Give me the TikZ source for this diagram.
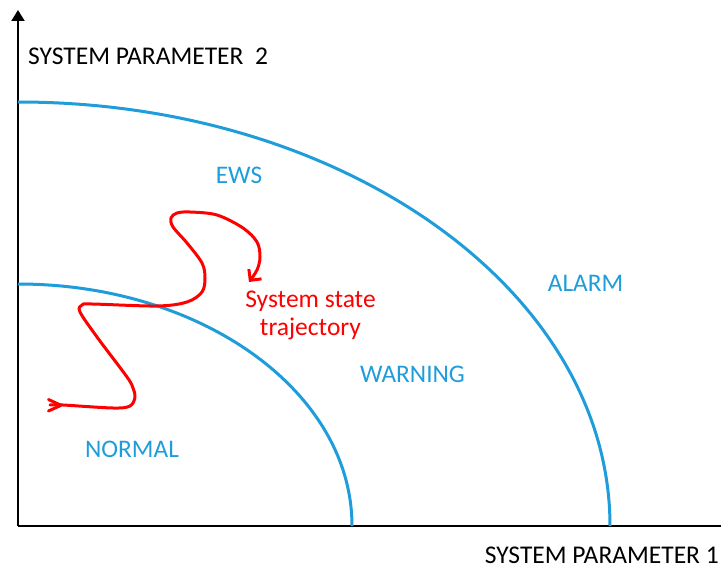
\documentclass[tikz,border=0pt]{standalone}
\usepackage{fontspec}
\setmainfont{Carlito}
\usetikzlibrary{arrows.meta}
\definecolor{zoneblue}{RGB}{30,157,218}
\definecolor{trajred}{RGB}{255,0,0}
\tikzset{
  axisline/.style={line width=2bp, black},
  boundary/.style={line width=3bp, zoneblue},
  zonelabel/.style={text=zoneblue, font=\fontsize{25.4}{30}\selectfont, inner sep=0pt, anchor=base},
  axislabel/.style={text=black, font=\fontsize{25.6}{30}\selectfont, inner sep=0pt},
  trajlabel/.style={text=trajred, font=\fontsize{25.6}{30}\selectfont, inner sep=0pt, anchor=base},
  trajectory/.style={line width=3bp, trajred, line cap=round, line join=round}
}
\begin{document}
\begin{tikzpicture}[x=1bp, y=-1bp]
  \useasboundingbox (0,0) rectangle (721,568);

  % axes
  \coordinate (origin) at (18,526);
  \coordinate (ytop) at (18,10);
  \coordinate (xend) at (721,526);
  \draw[axisline, -{Triangle[width=13bp,length=11bp]}] (origin) -- (ytop);
  \draw[axisline] (origin) -- (xend);

  % zone boundaries (quarter ellipses centred on the origin)
  \draw[boundary] (18,284) arc[start angle=90, end angle=0, x radius=334, y radius=-242];
  \draw[boundary] (18,102) arc[start angle=90, end angle=0, x radius=592, y radius=-424];

  % axis labels
  \node[axislabel, anchor=base west] (ylab) at (28,65) {SYSTEM PARAMETER\ \ 2};
  \node[axislabel, anchor=base east] (xlab) at (719,563) {SYSTEM PARAMETER 1};

  % zone labels
  \node[zonelabel] (ews) at (239,184) {EWS};
  \node[zonelabel] (alarm) at (585.5,291) {ALARM};
  \node[zonelabel] (warning) at (412.5,382) {WARNING};
  \node[zonelabel] (normal) at (132,457) {NORMAL};

  % trajectory label
  \node[trajlabel] (traj1) at (310.5,307) {System state};
  \node[trajlabel] (traj2) at (310.5,335) {trajectory};

  % system state trajectory
  \draw[trajectory, -{Straight Barb[length=8bp,width=16bp]}]
    plot[smooth, tension=0.55] coordinates {
      (50,405) (63,405) (113,408) (130,406) (135,397) (133,388) (127,377)
      (97,337) (80,312) (82,305) (92,304) (157,306) (187,302) (202,292)
      (205,278) (202,263) (187,243) (173,227) (171,218) (177,213) (190,212)
      (217,215) (243,228) (257,242) (260,257) (257,270) (249,282)
    };
  % direction mark at the start of the trajectory
  \coordinate (startmark) at (61,405.3);
  \draw[trajectory] (48.5,399.5) -- (startmark) -- (48.5,411);
\end{tikzpicture}
\end{document}
